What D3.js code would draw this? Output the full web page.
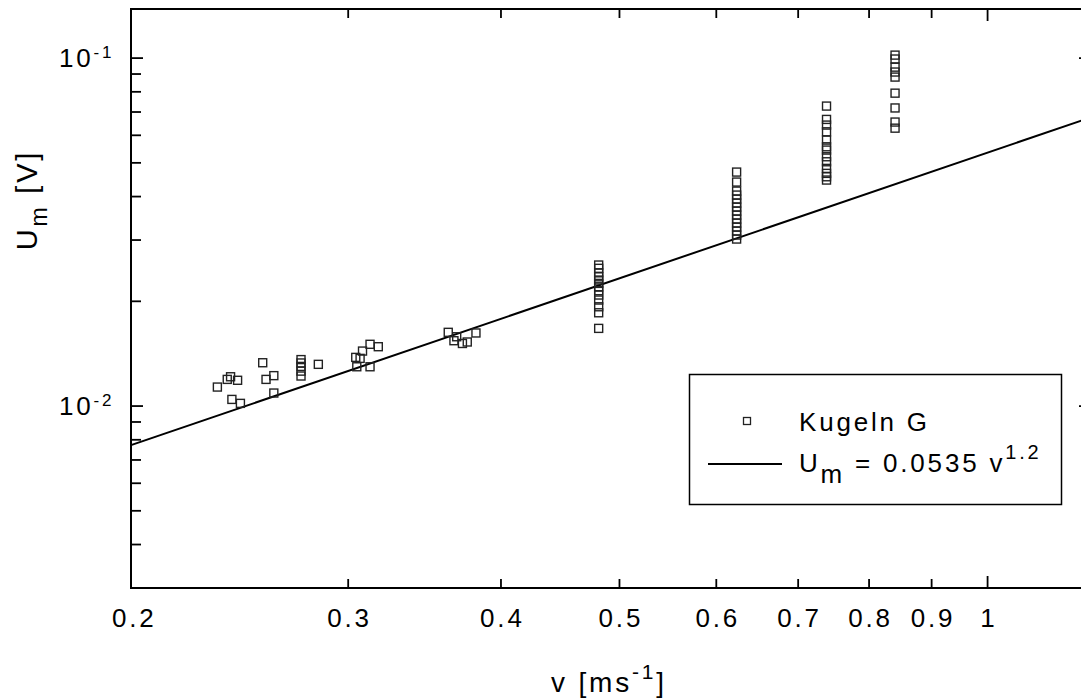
<!DOCTYPE html>
<html>
<head>
<meta charset="utf-8">
<script src="https://cdn.jsdelivr.net/npm/d3@7/dist/d3.min.js"></script>
<style>
  html, body { margin: 0; padding: 0; background: #fff; }
  svg { display: block; }
  text { font-family: "Liberation Sans", Arial, sans-serif; fill: #000; }
</style>
</head>
<body>
<svg id="chart" width="1081" height="700"></svg>
<script>
// ---------- data ----------
// scattered low-speed points
const lowV = [0.2345, 0.2389, 0.2404, 0.2436, 0.2410, 0.2449, 0.2554, 0.2570, 0.2608, 0.2608,
              0.2745, 0.2745, 0.2745, 0.2745, 0.2745, 0.2836];
const lowU = [0.01134, 0.01193, 0.01214, 0.01186, 0.01045, 0.01018, 0.01332, 0.01193, 0.01223, 0.01090,
              0.0136, 0.0133, 0.0130, 0.0126, 0.0122, 0.01318];
const midV = [0.3043, 0.3068, 0.3082, 0.3126, 0.3175, 0.3049, 0.3126,
              0.3622, 0.3680, 0.3661, 0.3720, 0.3754, 0.3816];
const midU = [0.01380, 0.01371, 0.01439, 0.01505, 0.01481, 0.01297, 0.01297,
              0.01629, 0.01582, 0.01541, 0.01513, 0.01528, 0.01622];
// vertical columns at fixed speeds
const colSpeeds = [0.4808, 0.6234, 0.7384, 0.8401];
const col048U = [0.02543, 0.02488, 0.02415, 0.02352, 0.02302, 0.02252, 0.02202, 0.02145, 0.02085,
                 0.02017, 0.01929, 0.01854, 0.01672];
const col062U = [0.04704, 0.04403, 0.04148, 0.04040, 0.03934, 0.03832, 0.03731, 0.03634, 0.03539,
                 0.03446, 0.03357, 0.03269, 0.03184, 0.03101, 0.03020];
const col073U = [0.07280, 0.06665, 0.06420, 0.06141, 0.05813, 0.05561, 0.05441, 0.05206, 0.05036,
                 0.04820, 0.04664, 0.04560, 0.04462];
const col083U = [0.1020, 0.0994, 0.0942, 0.0912, 0.0882, 0.0793, 0.0719, 0.0655, 0.0629];
// fit  U = a v^b
const fitA = 0.0535;
const fitB = 1.2;
// axes
const xDomain = [0.1993, 1.215];
const yDomain = [0.003, 0.1384];
const xTickVals = [0.2, 0.3, 0.4, 0.5, 0.6, 0.7, 0.8, 0.9, 1];
const xTickLabels = ["0.2", "0.3", "0.4", "0.5", "0.6", "0.7", "0.8", "0.9", "1"];
const xMajorTicks = [1];
const yMajorTicks = [0.01, 0.1];
const yMajorExp = ["-2", "-1"];
const yMinorTicks = [0.004, 0.005, 0.006, 0.007, 0.008, 0.009, 0.02, 0.03, 0.04, 0.05, 0.06, 0.07, 0.08, 0.09];

// ---------- build ----------
const svg = d3.select("#chart");
const L = 131, R = 1091, T = 9, B = 588;
const x = d3.scaleLog().domain(xDomain).range([L, R]);
const y = d3.scaleLog().domain(yDomain).range([B, T]);
const LS = "2.8px";

const points = [];
lowV.forEach((v, i) => points.push([v, lowU[i]]));
midV.forEach((v, i) => points.push([v, midU[i]]));
[col048U, col062U, col073U, col083U].forEach((arr, k) => arr.forEach(u => points.push([colSpeeds[k], u])));

// fit line
const fitLine = d3.line().x(d => x(d)).y(d => y(fitA * Math.pow(d, fitB)));
svg.append("path").datum(xDomain).attr("d", fitLine)
  .attr("fill", "none").attr("stroke", "#000").attr("stroke-width", 2);

// scatter squares
const S = 8;
svg.append("g").selectAll("rect").data(points).join("rect")
  .attr("x", d => x(d[0]) - S / 2).attr("y", d => y(d[1]) - S / 2)
  .attr("width", S).attr("height", S)
  .attr("fill", "none").attr("stroke", "#222").attr("stroke-width", 1.4);

// frame
svg.append("rect").attr("x", L).attr("y", T).attr("width", R - L).attr("height", B - T)
  .attr("fill", "none").attr("stroke", "#000").attr("stroke-width", 2);

// x ticks (bottom and top, inward)
const tickLen = v => xMajorTicks.includes(v) ? 12 : 9;
const xt = xTickVals.filter(v => v > xDomain[0] + 0.001);
svg.append("g").selectAll("line").data(xt).join("line")
  .attr("x1", d => x(d)).attr("x2", d => x(d))
  .attr("y1", B).attr("y2", d => B - tickLen(d))
  .attr("stroke", "#000").attr("stroke-width", 1.8);
svg.append("g").selectAll("line").data(xt).join("line")
  .attr("x1", d => x(d)).attr("x2", d => x(d))
  .attr("y1", T).attr("y2", d => T + tickLen(d))
  .attr("stroke", "#000").attr("stroke-width", 1.8);

// x tick labels
svg.append("g").selectAll("text").data(xTickVals).join("text")
  .attr("x", d => x(d) + 1.4).attr("y", 627)
  .attr("text-anchor", "middle").attr("font-size", 26).style("letter-spacing", LS)
  .text((d, i) => xTickLabels[i]);

// y ticks
const yAll = yMajorTicks.map(v => [v, 12]).concat(yMinorTicks.map(v => [v, 10]));
svg.append("g").selectAll("line").data(yAll).join("line")
  .attr("x1", L).attr("x2", d => L + d[1])
  .attr("y1", d => y(d[0])).attr("y2", d => y(d[0]))
  .attr("stroke", "#000").attr("stroke-width", 1.8);
svg.append("g").selectAll("line").data(yAll).join("line")
  .attr("x1", R).attr("x2", d => R - d[1])
  .attr("y1", d => y(d[0])).attr("y2", d => y(d[0]))
  .attr("stroke", "#000").attr("stroke-width", 1.8);

// y tick labels 10^n
yMajorTicks.forEach((v, i) => {
  const t = svg.append("text").attr("x", 59).attr("y", y(v) + 9)
    .attr("font-size", 26).style("letter-spacing", LS);
  t.append("tspan").text("10");
  t.append("tspan").attr("dy", -9).attr("font-size", 17).text(yMajorExp[i]);
});

// axis titles
const xt2 = svg.append("text").attr("x", 609).attr("y", 692).attr("text-anchor", "middle")
  .attr("font-size", 28).style("letter-spacing", LS);
xt2.append("tspan").text("v [ms");
xt2.append("tspan").attr("dy", -13).attr("font-size", 21).text("-1");
xt2.append("tspan").attr("dy", 13).text("]");

const yt = svg.append("text").attr("transform", "translate(37,200) rotate(-90)")
  .attr("text-anchor", "middle").attr("font-size", 29).style("letter-spacing", LS);
yt.append("tspan").text("U");
yt.append("tspan").attr("dy", 10).attr("font-size", 23).text("m");
yt.append("tspan").attr("dy", -10).text(" [V]");

// legend
const lg = svg.append("g");
lg.append("rect").attr("x", 689.5).attr("y", 374.5).attr("width", 372).attr("height", 130)
  .attr("fill", "#fff").attr("stroke", "#000").attr("stroke-width", 1.5);
lg.append("rect").attr("x", 743.5).attr("y", 417.5).attr("width", 7).attr("height", 7)
  .attr("fill", "none").attr("stroke", "#222").attr("stroke-width", 1.3);
lg.append("text").attr("x", 799).attr("y", 431).attr("font-size", 26).style("letter-spacing", LS)
  .text("Kugeln G");
lg.append("line").attr("x1", 708).attr("x2", 782).attr("y1", 464).attr("y2", 464)
  .attr("stroke", "#000").attr("stroke-width", 2);
const l2 = lg.append("text").attr("x", 799).attr("y", 472).attr("font-size", 26).style("letter-spacing", LS);
l2.append("tspan").text("U");
l2.append("tspan").attr("dy", 11).text("m");
l2.append("tspan").attr("dy", -11).text(" = 0.0535 v");
l2.append("tspan").attr("dy", -13).attr("font-size", 20).text("1.2");
</script>
</body>
</html>
